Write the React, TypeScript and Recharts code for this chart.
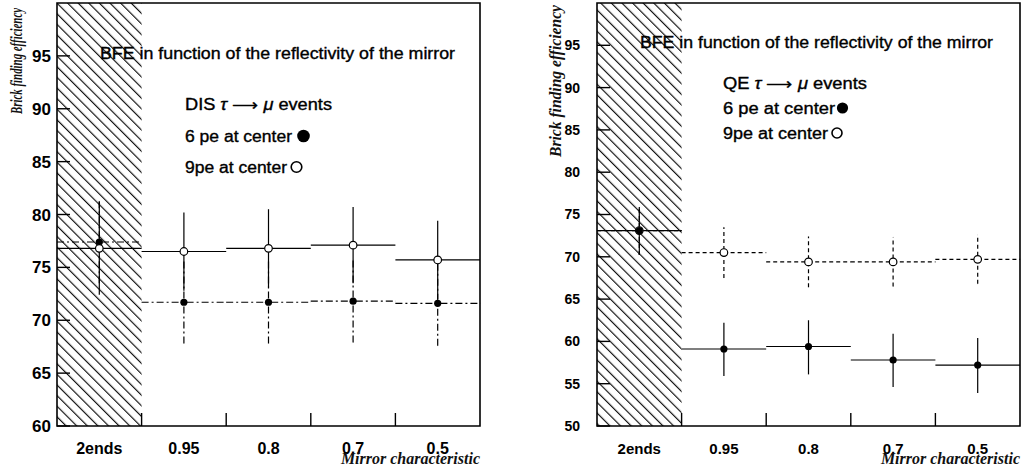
import {
  ComposedChart, Scatter, ErrorBar, XAxis, YAxis, ReferenceArea,
} from "recharts"

const categories = ["2ends", "0.95", "0.8", "0.7", "0.5"]
const binCenters = [0.5, 1.5, 2.5, 3.5, 4.5]
const binEdges = [1, 2, 3, 4]

// DIS tau -> mu events
const disTicks = [60, 65, 70, 75, 80, 85, 90, 95]
const dis6pe = [77.4, 71.7, 71.7, 71.8, 71.6]
const dis6peErr = [3.9, 3.9, 3.9, 3.9, 4.0]
const dis9pe = [76.8, 76.5, 76.8, 77.1, 75.7]
const dis9peErr = [4.4, 3.7, 3.7, 3.6, 3.7]

// QE tau -> mu events
const qeTicks = [50, 55, 60, 65, 70, 75, 80, 85, 90, 95]
const qe6pe = [73.1, 59.1, 59.4, 57.8, 57.2]
const qe6peErrLo = [2.9, 3.2, 3.3, 3.2, 3.3]
const qe6peErrHi = [2.8, 3.1, 3.1, 3.1, 3.2]
const qe9pe = [73.1, 70.5, 69.4, 69.4, 69.7]
const qe9peErr = [2.9, 3.0, 3.0, 2.9, 2.9]

const toRows = (vals: number[], lo: number[], hi: number[]) =>
  vals.map((v, i) => ({ x: binCenters[i], y: v, ey: [lo[i], hi[i]], ex: 0.5 }))

const SANS = "'Liberation Sans', Arial, sans-serif"
const SERIF = "'Liberation Serif', 'Times New Roman', serif"
const PLOT_PX = 423 // plot box is 423 x 423 px in both panels
const TICK_PX = 13

const openDot = (p: any) => (
  <circle cx={p.cx} cy={p.cy} r={3.8} fill="#fff" stroke="#000" strokeWidth={1.2} />
)
const fullDot = (p: any) => <circle cx={p.cx} cy={p.cy} r={3.6} fill="#000" />
const noDot = () => <g />

interface SeriesDef {
  rows: any[]
  dot: (p: any) => any
  dash?: string
}

interface PanelProps {
  left: number
  width: number
  yAxisWidth: number
  marginRight: number
  domain: [number, number]
  ticks: number[]
  tickFont: number
  xTickFont: number
  yTickMargin: number
  series: SeriesDef[]
}

function Panel({ left, width, yAxisWidth, marginRight, domain, ticks, tickFont, xTickFont, yTickMargin, series }: PanelProps) {
  // inward tick marks as one-sided error bars, length in data units
  const tickX = (5 * TICK_PX) / PLOT_PX
  const tickY = ((domain[1] - domain[0]) * TICK_PX) / PLOT_PX
  const yMarks = ticks.map((t) => ({ x: 0, y: t, ex: [0, tickX] }))
  const xMarks = binEdges.map((e) => ({ x: e, y: domain[0], ey: [0, tickY] }))
  return (
    <div style={{ position: "absolute", left, top: 0 }}>
      <ComposedChart width={width} height={476} margin={{ top: 3, right: marginRight, bottom: 20, left: 0 }}>
        <XAxis xAxisId="x" type="number" dataKey="x" domain={[0, 5]} ticks={binCenters} interval={0}
          allowDataOverflow tickFormatter={(v: number) => categories[Math.floor(v)]}
          tickLine={false} axisLine={false} height={30} tickSize={0} tickMargin={17}
          tick={{ fill: "#000", fontSize: xTickFont, fontWeight: 700, fontFamily: SANS }} />
        <YAxis yAxisId="y" type="number" domain={domain} ticks={ticks} width={yAxisWidth} interval={0}
          allowDataOverflow tickLine={false} axisLine={false} tickSize={0} tickMargin={yTickMargin}
          tick={{ fill: "#000", fontSize: tickFont, fontWeight: 700, fontFamily: SANS }} />
        <ReferenceArea xAxisId="x" yAxisId="y" x1={0} x2={1} y1={domain[0]} y2={domain[1]}
          fill="url(#hatch)" fillOpacity={1} stroke="none" />
        <Scatter xAxisId="x" yAxisId="y" data={yMarks} dataKey="y" shape={noDot} isAnimationActive={false}>
          <ErrorBar dataKey="ex" direction="x" width={0} stroke="#000" strokeWidth={1.4} isAnimationActive={false} />
        </Scatter>
        <Scatter xAxisId="x" yAxisId="y" data={xMarks} dataKey="y" shape={noDot} isAnimationActive={false}>
          <ErrorBar dataKey="ey" direction="y" width={0} stroke="#000" strokeWidth={1.4} isAnimationActive={false} />
        </Scatter>
        {series.map((s, i) => (
          <Scatter key={i} xAxisId="x" yAxisId="y" data={s.rows} dataKey="y" shape={s.dot} isAnimationActive={false}>
            <ErrorBar dataKey="ey" direction="y" width={0} stroke="#000" strokeWidth={1.2}
              strokeDasharray={s.dash} isAnimationActive={false} />
            <ErrorBar dataKey="ex" direction="x" width={0} stroke="#000" strokeWidth={1.2}
              strokeDasharray={s.dash} isAnimationActive={false} />
          </Scatter>
        ))}
        <ReferenceArea xAxisId="x" yAxisId="y" x1={0} x2={5} y1={domain[0]} y2={domain[1]}
          fill="none" stroke="#000" strokeWidth={1.6} />
      </ComposedChart>
    </div>
  )
}

export default function App() {
  const textStyle = { fontFamily: SANS, fontSize: 16, fill: "#000", stroke: "#000", strokeWidth: 0.35 }
  const axisLabel = { fontFamily: SERIF, fontSize: 16, fontStyle: "italic", fontWeight: 700, fill: "#111" }
  return (
    <div style={{ position: "absolute", left: 0, top: 0, width: 1023, height: 476, background: "#fff", overflow: "hidden" }}>
      <svg width={0} height={0} style={{ position: "absolute" }}>
        <defs>
          <pattern id="hatch" width={7.5} height={7.5} patternUnits="userSpaceOnUse" patternTransform="rotate(-45)">
            <line x1={0.6} y1={0} x2={0.6} y2={7.5} stroke="#000" strokeWidth={1.1} />
          </pattern>
        </defs>
      </svg>
      <Panel left={0} width={512} yAxisWidth={57} marginRight={32} domain={[60, 100]} ticks={disTicks}
        tickFont={17} xTickFont={16} yTickMargin={6}
        series={[
          { rows: toRows(dis6pe, dis6peErr, dis6peErr), dot: fullDot, dash: "7 3 2 3" },
          { rows: toRows(dis9pe, dis9peErr, dis9peErr), dot: openDot },
        ]} />
      <Panel left={512} width={511} yAxisWidth={85} marginRight={3} domain={[50, 100]} ticks={qeTicks}
        tickFont={14} xTickFont={15} yTickMargin={17}
        series={[
          { rows: toRows(qe9pe, qe9peErr, qe9peErr), dot: openDot, dash: "4 3" },
          { rows: toRows(qe6pe, qe6peErrLo, qe6peErrHi), dot: fullDot },
        ]} />
      <svg width={1023} height={476} style={{ position: "absolute", left: 0, top: 0, pointerEvents: "none" }}>
        {/* left panel texts */}
        <text x={100} y={59} textLength={355} lengthAdjust="spacingAndGlyphs" style={textStyle}>
          BFE in function of the reflectivity of the mirror
        </text>
        <text x={185} y={110} textLength={147} lengthAdjust="spacingAndGlyphs" style={textStyle}>
          DIS <tspan fontStyle="italic">τ</tspan> ⟶ <tspan fontStyle="italic">μ</tspan> events
        </text>
        <text x={185} y={142} textLength={107} lengthAdjust="spacingAndGlyphs" style={textStyle}>
          6 pe at center
        </text>
        <circle cx={303.5} cy={136} r={6.3} fill="#000" />
        <text x={185} y={173} textLength={102} lengthAdjust="spacingAndGlyphs" style={textStyle}>
          9pe at center
        </text>
        <circle cx={296.5} cy={167} r={5.3} fill="none" stroke="#000" strokeWidth={1.6} />
        <text transform="translate(17,61) rotate(-90) scale(0.68,1)" textAnchor="middle" dominantBaseline="central"
          style={axisLabel}>
          Brick finding efficiency
        </text>
        <text x={480} y={464} textAnchor="end" style={axisLabel}>Mirror characteristic</text>

        {/* right panel texts */}
        <text x={640} y={48} textLength={353} lengthAdjust="spacingAndGlyphs" style={textStyle}>
          BFE in function of the reflectivity of the mirror
        </text>
        <text x={723} y={89} textLength={144} lengthAdjust="spacingAndGlyphs" style={textStyle}>
          QE <tspan fontStyle="italic">τ</tspan> ⟶ <tspan fontStyle="italic">μ</tspan> events
        </text>
        <text x={723} y={114} textLength={112} lengthAdjust="spacingAndGlyphs" style={textStyle}>
          6 pe at center
        </text>
        <circle cx={842.5} cy={108} r={5.6} fill="#000" />
        <text x={723} y={139} textLength={105} lengthAdjust="spacingAndGlyphs" style={textStyle}>
          9pe at center
        </text>
        <circle cx={837} cy={133} r={5} fill="none" stroke="#000" strokeWidth={1.6} />
        <text transform="translate(555,81) rotate(-90)" textAnchor="middle" dominantBaseline="central"
          textLength={152} lengthAdjust="spacingAndGlyphs" style={axisLabel}>
          Brick finding efficiency
        </text>
        <text x={1020} y={464} textAnchor="end" style={axisLabel}>Mirror characteristic</text>
      </svg>
    </div>
  )
}
